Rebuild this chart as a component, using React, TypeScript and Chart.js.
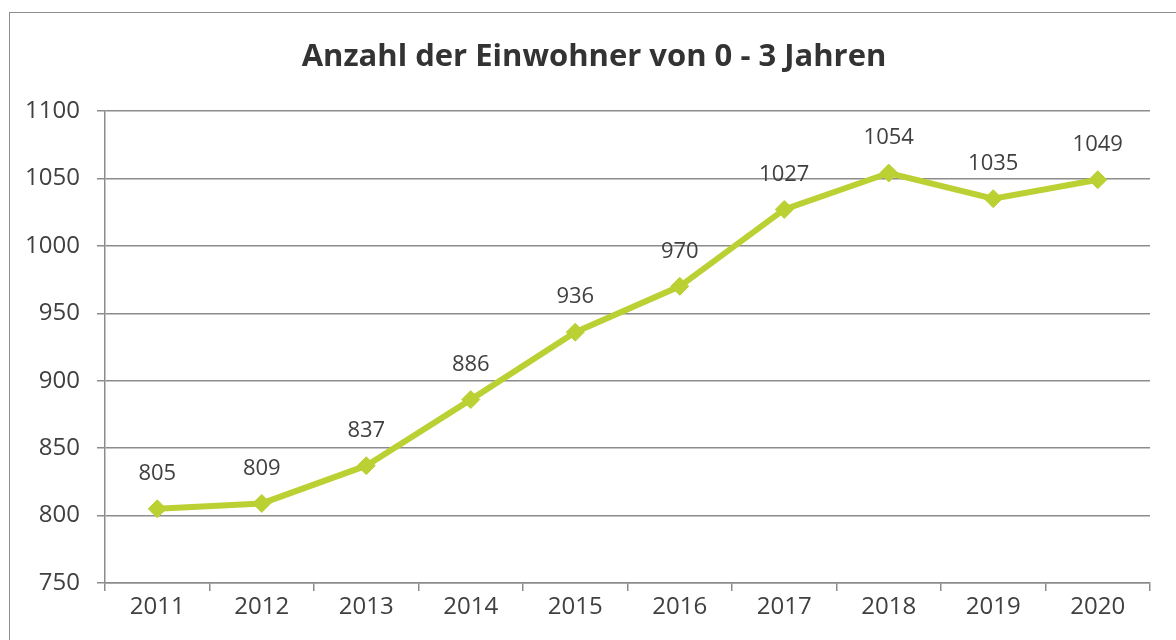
import React, { useEffect, useRef } from "react";
import { Chart, registerables } from "chart.js";

Chart.register(...registerables);

const TITLE = "Anzahl der Einwohner von 0 - 3 Jahren";
const years = ["2011", "2012", "2013", "2014", "2015", "2016", "2017", "2018", "2019", "2020"];
const residents = [805, 809, 837, 886, 936, 970, 1027, 1054, 1035, 1049];
const yMin = 750;
const yMax = 1100;
const yStep = 50;

const FONT = "'Open Sans', Lato, sans-serif";
const TEXT = "#404040";
const GRID = "#8c8c8c";
const LINE = "#bad033";

const valueLabels = {
  id: "valueLabels",
  afterDatasetsDraw(chart: any) {
    const ctx = chart.ctx;
    const meta = chart.getDatasetMeta(0);
    ctx.save();
    ctx.font = `22px ${FONT}`;
    ctx.fillStyle = TEXT;
    ctx.textAlign = "center";
    ctx.textBaseline = "middle";
    meta.data.forEach((pt: any, i: number) => {
      ctx.fillText(String(residents[i]), pt.x, pt.y - 35);
    });
    ctx.restore();
  },
};

const titlePlugin = {
  id: "customTitle",
  afterDraw(chart: any) {
    const ctx = chart.ctx;
    ctx.save();
    ctx.font = `bold 31px ${FONT}`;
    ctx.fillStyle = "#333333";
    ctx.textAlign = "center";
    ctx.textBaseline = "middle";
    ctx.fillText(TITLE, 594, 57);
    ctx.restore();
  },
};

export default function App() {
  const ref = useRef<HTMLCanvasElement>(null);
  useEffect(() => {
    document.body.style.margin = "0";
    document.body.style.overflow = "hidden";
    const chart = new Chart(ref.current!, {
      type: "line",
      data: {
        labels: years,
        datasets: [
          {
            data: residents,
            borderColor: LINE,
            backgroundColor: LINE,
            borderWidth: 6,
            pointStyle: "rectRot",
            pointRadius: 9,
            pointBorderWidth: 1,
            pointBackgroundColor: LINE,
            pointBorderColor: LINE,
            tension: 0,
          },
        ],
      },
      options: {
        responsive: false,
        animation: false,
        layout: { padding: { left: 10, right: 26, top: 111, bottom: 0 } },
        plugins: {
          legend: { display: false },
          tooltip: { enabled: false },
          title: { display: false },
        },
        scales: {
          x: {
            offset: true,
            grid: {
              offset: true,
              drawOnChartArea: false,
              drawTicks: true,
              tickLength: 8,
              color: GRID,
              lineWidth: 1.5,
            },
            border: { display: true, color: GRID, width: 1.5 },
            ticks: { color: TEXT, font: { family: FONT, size: 24 }, padding: 2, maxRotation: 0, autoSkip: false },
            afterFit(scale: any) {
              scale.height = 57;
            },
          },
          y: {
            min: yMin,
            max: yMax,
            grid: { color: GRID, lineWidth: 1.5, tickLength: 8, drawTicks: true },
            border: { display: true, color: GRID, width: 1.5 },
            ticks: {
              stepSize: yStep,
              color: TEXT,
              font: { family: FONT, size: 24 },
              padding: 17,
              callback: (v: any) => String(v),
            },
            afterFit(scale: any) {
              scale.width = 95;
            },
          },
        },
      },
      plugins: [valueLabels, titlePlugin],
    });
    return () => chart.destroy();
  }, []);
  return (
    <div style={{ position: "fixed", left: 0, top: 0, width: 1176, height: 640, background: "#fff" }}>
      <canvas ref={ref} width={1176} height={640} style={{ position: "absolute", left: 0, top: 0 }} />
      <div
        style={{
          position: "absolute",
          left: 9,
          top: 12,
          width: 1167,
          height: 628,
          borderTop: "1.5px solid #8c8c8c",
          borderLeft: "1.5px solid #8c8c8c",
          boxSizing: "border-box",
          pointerEvents: "none",
        }}
      />
    </div>
  );
}
